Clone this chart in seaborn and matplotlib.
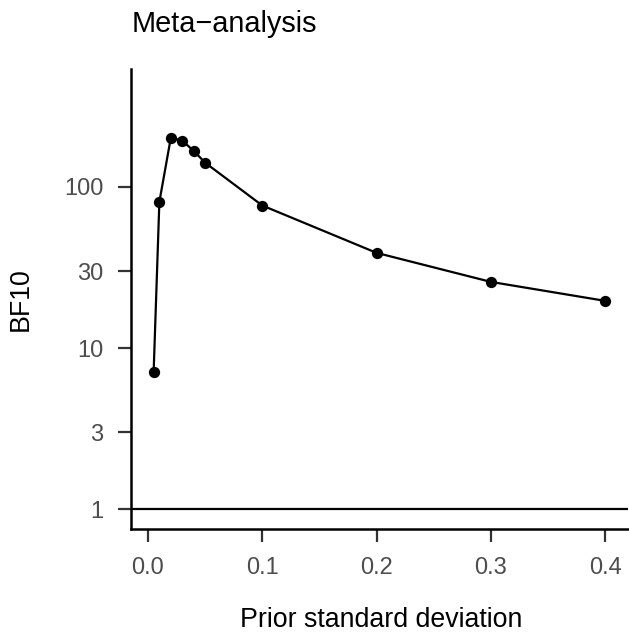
import numpy as np
import pandas as pd
import matplotlib
matplotlib.use("Agg")
import matplotlib.pyplot as plt
import seaborn as sns

prior_sd = [0.005, 0.01, 0.02, 0.03, 0.04, 0.05, 0.1, 0.2, 0.3, 0.4]
bf10 = [7.1, 80.5, 201, 193, 167, 141, 76.5, 38.9, 25.7, 19.6]
yticks = [1, 3, 10, 30, 100]
ytick_labels = ["1", "3", "10", "30", "100"]
xticks = [0.0, 0.1, 0.2, 0.3, 0.4]
xtick_labels = ["0.0", "0.1", "0.2", "0.3", "0.4"]

df = pd.DataFrame({"sd": prior_sd, "bf": bf10})

sns.set_style("white")
plt.rcParams["font.family"] = ["Liberation Sans", "DejaVu Sans"]

W, H = 629, 633
fig = plt.figure(figsize=(W / 100, H / 100), dpi=100)
ax = fig.add_axes([131 / W, 1 - 529 / H, (628 - 131) / W, (529 - 69) / H])

ax.axhline(1, color="black", lw=1.6, zorder=1)
sns.lineplot(data=df, x="sd", y="bf", ax=ax, color="black", lw=1.6, zorder=2)
sns.scatterplot(data=df, x="sd", y="bf", ax=ax, color="black", s=66, edgecolor="black", linewidth=0, zorder=3)

ax.set_yscale("log")
ax.set_xlim(-0.0148, 0.4198)
ax.set_ylim(10 ** -0.122, 10 ** 2.730)
ax.set_yticks(yticks)
ax.set_yticklabels(ytick_labels)
ax.minorticks_off()
ax.set_xticks(xticks)
ax.set_xticklabels(xtick_labels)

for s in ["top", "right"]:
    ax.spines[s].set_visible(False)
for s in ["left", "bottom"]:
    ax.spines[s].set_color("black")
    ax.spines[s].set_linewidth(1.8)

ax.tick_params(axis="both", which="major", direction="out", length=9.5, width=1.6,
               color="#333333", labelcolor="#4D4D4D", labelsize=17, pad=10.5,
               left=True, bottom=True)
ax.set_xlabel("")
ax.set_ylabel("")

fig.text(132 / W, 1 - 32 / H, "Meta\u2212analysis", ha="left", va="baseline", fontsize=20.8, color="black")
fig.text(381 / W, 1 - 627 / H, "Prior standard deviation", ha="center", va="baseline", fontsize=19.3, color="black")
fig.text(21 / W, 1 - 299 / H, "BF10", ha="center", va="center", rotation=90, fontsize=19.3, color="black")

fig.savefig("out.png", dpi=100)
